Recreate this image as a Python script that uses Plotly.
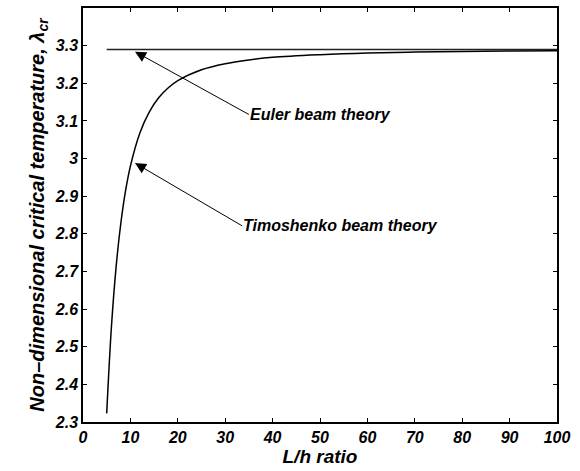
import plotly.graph_objects as go

# Data
lh_ratio = [5, 6, 7, 8, 9, 10, 12, 14, 16, 18, 20, 25, 30, 35, 40, 50, 60, 70, 80, 90, 100]
timoshenko = [2.323, 2.553, 2.714, 2.830, 2.916, 2.980, 3.068, 3.124, 3.162, 3.188, 3.207,
              3.236, 3.252, 3.262, 3.269, 3.276, 3.2805, 3.283, 3.2847, 3.2858, 3.2866]
euler_x = [5, 100]
euler = [3.29, 3.29]

x_ticks = list(range(0, 101, 10))
y_ticks = [2.3, 2.4, 2.5, 2.6, 2.7, 2.8, 2.9, 3.0, 3.1, 3.2, 3.3]
y_tick_labels = ["2.3", "2.4", "2.5", "2.6", "2.7", "2.8", "2.9", "3", "3.1", "3.2", "3.3"]

FONT = "Liberation Sans"

fig = go.Figure()
fig.add_trace(go.Scatter(x=euler_x, y=euler, mode="lines",
                         line=dict(color="#222222", width=1.5), showlegend=False))
fig.add_trace(go.Scatter(x=lh_ratio, y=timoshenko, mode="lines", line_shape="spline",
                         line=dict(color="black", width=1.5), showlegend=False))

label_font = dict(family=FONT, size=16, color="black")

# Labels with arrows (text box left edge at the arrow tail)
fig.add_annotation(x=10.97, y=3.284, ax=35.0, ay=3.117, xref="x", yref="y",
                   axref="x", ayref="y", text="<b><i>Euler beam theory</i></b>",
                   showarrow=True, xanchor="left", yanchor="middle", font=label_font,
                   arrowhead=2, arrowsize=2.2, arrowwidth=1, arrowcolor="black",
                   borderpad=0)
fig.add_annotation(x=10.97, y=2.988, ax=33.6, ay=2.821, xref="x", yref="y",
                   axref="x", ayref="y", text="<b><i>Timoshenko beam theory</i></b>",
                   showarrow=True, xanchor="left", yanchor="middle", font=label_font,
                   arrowhead=2, arrowsize=2.2, arrowwidth=1, arrowcolor="black",
                   borderpad=0)

axis_common = dict(showline=True, linecolor="black", linewidth=1.5, mirror="ticks",
                   ticks="inside", ticklen=4, tickcolor="black", showgrid=False,
                   zeroline=False, tickfont=dict(family=FONT, size=16, color="black"))

fig.update_xaxes(range=[0, 100], tickvals=x_ticks,
                 ticktext=["<b><i>%d</i></b>" % v for v in x_ticks],
                 title=dict(text="<b><i>L/h ratio</i></b>", font=dict(family=FONT, size=19, color="black"),
                            standoff=4),
                 **axis_common)
fig.update_yaxes(range=[2.3, 3.4], tickvals=y_ticks,
                 ticktext=["<b><i>%s</i></b>" % t for t in y_tick_labels],
                 title=dict(text="<b><i>Non\u2013dimensional critical temperature, \u03bb<sub>cr</sub></i></b>",
                            font=dict(family=FONT, size=20, color="black"), standoff=5),
                 **axis_common)

fig.update_layout(width=580, height=471, margin=dict(l=83, r=23, t=6, b=49),
                  plot_bgcolor="white", paper_bgcolor="white")

fig.write_html("out.html")
